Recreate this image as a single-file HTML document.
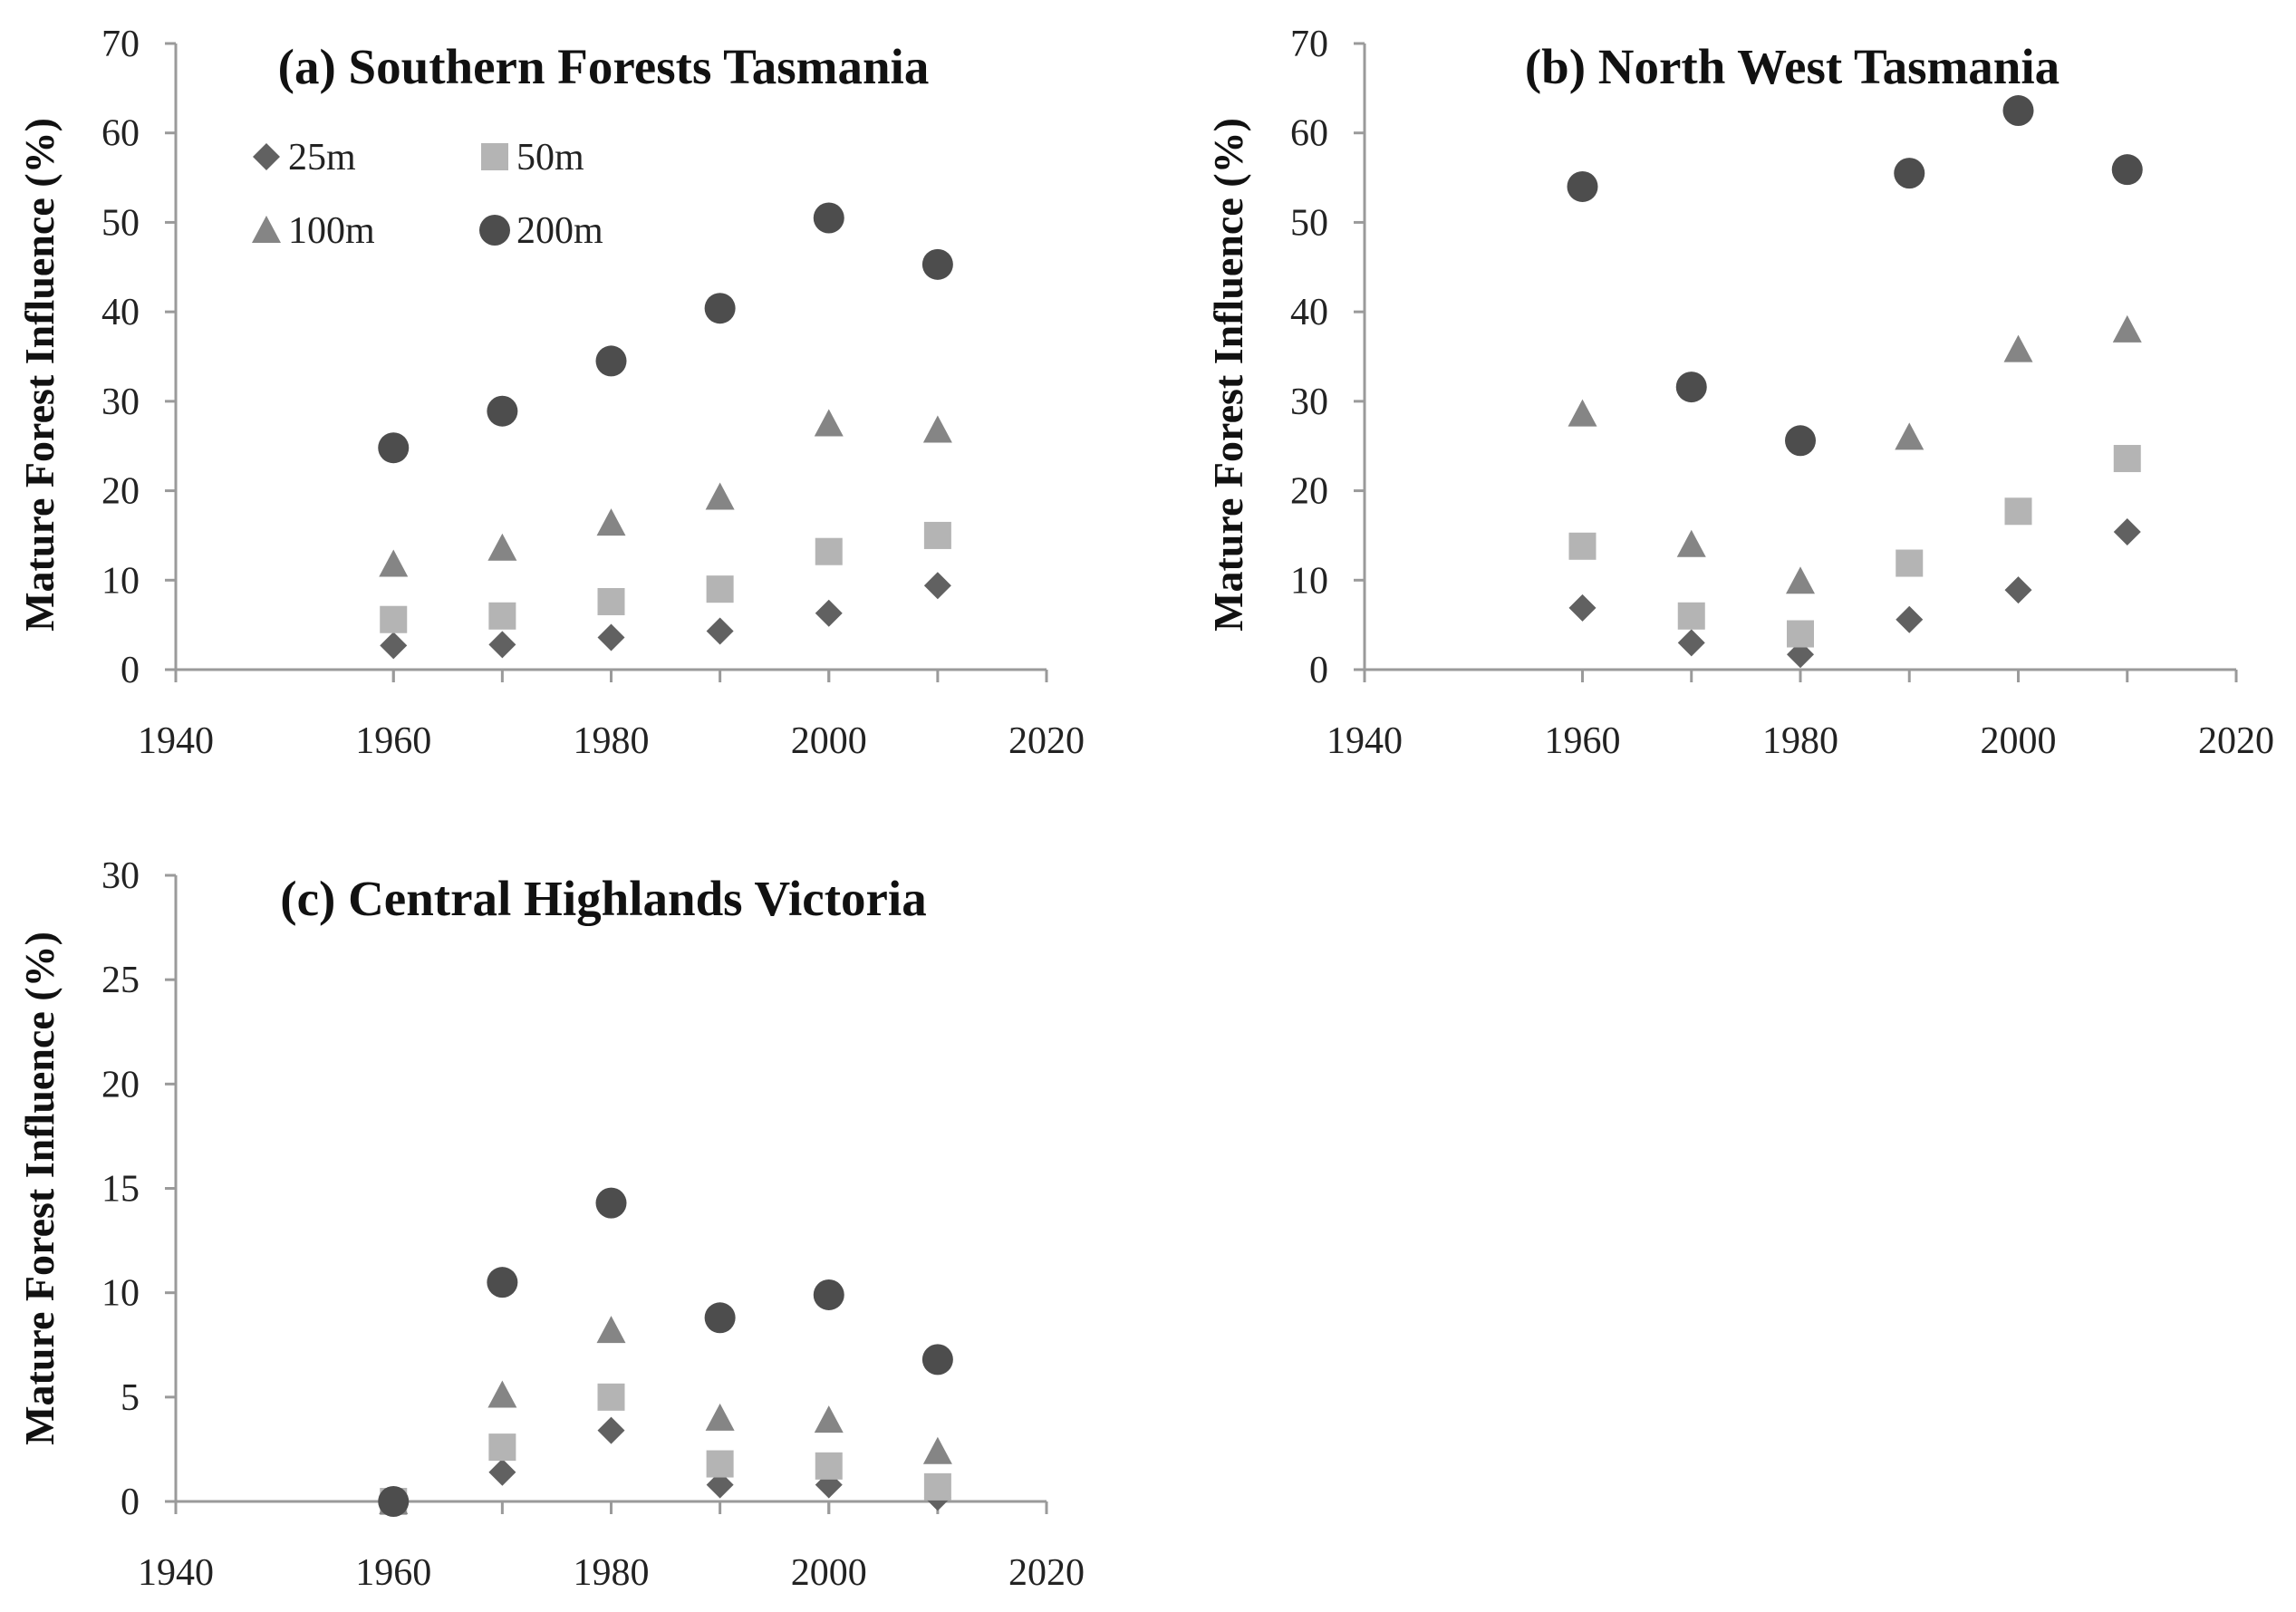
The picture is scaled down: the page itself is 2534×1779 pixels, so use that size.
<!DOCTYPE html>
<html><head><meta charset="utf-8">
<style>
html,body{margin:0;padding:0;background:#fff;}
svg{display:block;}
text{font-family:"Liberation Serif",serif;}
</style></head>
<body>
<svg id="chart" width="2534" height="1779" viewBox="0 0 2534 1779" xmlns="http://www.w3.org/2000/svg"></svg>
<script>
const years = [1960, 1970, 1980, 1990, 2000, 2010];
const xTicks = [1940, 1960, 1980, 2000, 2020];
const seriesNames = ['25m', '50m', '100m', '200m'];
const ticksAB = [0, 10, 20, 30, 40, 50, 60, 70];
const ticksC = [0, 5, 10, 15, 20, 25, 30];
const a25 = [2.7, 2.8, 3.6, 4.3, 6.3, 9.4];
const a50 = [5.6, 6.0, 7.6, 9.0, 13.2, 15.0];
const a100 = [11.8, 13.6, 16.4, 19.3, 27.5, 26.8];
const a200 = [24.8, 28.9, 34.5, 40.4, 50.5, 45.3];
const b25 = [6.9, 3.0, 1.7, 5.6, 8.9, 15.4];
const b50 = [13.8, 6.0, 4.0, 11.9, 17.7, 23.6];
const b100 = [28.6, 14.0, 9.9, 26.0, 35.8, 38.0];
const b200 = [54.0, 31.6, 25.6, 55.5, 62.5, 55.9];
const c25 = [0, 1.4, 3.4, 0.8, 0.8, 0.2];
const c50 = [0, 2.6, 5.0, 1.8, 1.7, 0.7];
const c100 = [0, 5.1, 8.2, 4.0, 3.9, 2.4];
const c200 = [0, 10.5, 14.3, 8.8, 9.9, 6.8];

const NS = 'http://www.w3.org/2000/svg';
const svg = document.getElementById('chart');
function mk(tag, attrs, parent, txt) {
  const e = document.createElementNS(NS, tag);
  for (const k in attrs) e.setAttribute(k, attrs[k]);
  if (txt !== undefined) e.textContent = txt;
  (parent || svg).appendChild(e);
  return e;
}
const colors = {'25m': '#616161', '50m': '#b4b4b4', '100m': '#858585', '200m': '#4d4d4d'};
function marker(kind, cx, cy, g) {
  let e;
  if (kind === '25m') {
    const r = 15;
    e = mk('polygon', {points: `${cx},${cy - r} ${cx + r},${cy} ${cx},${cy + r} ${cx - r},${cy}`, fill: colors[kind]}, g);
  } else if (kind === '50m') {
    e = mk('rect', {x: cx - 15, y: cy - 15, width: 30, height: 30, fill: colors[kind]}, g);
  } else if (kind === '100m') {
    e = mk('polygon', {points: `${cx},${cy - 16} ${cx + 16},${cy + 14} ${cx - 16},${cy + 14}`, fill: colors[kind]}, g);
  } else {
    e = mk('circle', {cx: cx, cy: cy, r: 17, fill: colors[kind]}, g);
  }
  return e;
}

function panel(id, x0, x1, y0, y1, yTicks, ymax, title, data, withLegend, ytOff) {
  const g = mk('g', {});
  
  
  const xs = v => x0 + (v - 1940) / 80 * (x1 - x0);
  const ys = v => y0 - v / ymax * (y0 - y1);
  const ax = mk('g', {stroke: '#9a9a9a', 'stroke-width': 3}, g);
  
  
  mk('line', {x1: x0, y1: y1, x2: x0, y2: y0 + 14}, ax);
  mk('line', {x1: x0, y1: y0, x2: x1, y2: y0}, ax);
  yTicks.forEach(t => {
    mk('line', {x1: x0 - 12, y1: ys(t), x2: x0, y2: ys(t)}, ax);
    const tl = mk('text', {x: x0 - 40, y: ys(t) + 14, 'text-anchor': 'end', 'font-size': 42, fill: '#222'}, g, String(t));
    
    
  });
  xTicks.forEach(t => {
    mk('line', {x1: xs(t), y1: y0, x2: xs(t), y2: y0 + 14}, ax);
    const tl = mk('text', {x: xs(t), y: y0 + 92, 'text-anchor': 'middle', 'font-size': 42, fill: '#222'}, g, String(t));
    
    
  });
  years.forEach(t => {
    mk('line', {x1: xs(t), y1: y0, x2: xs(t), y2: y0 + 14}, ax);
  });
  const tt = mk('text', {x: 666 + (x0 - 194), y: y1 + 44, 'text-anchor': 'middle', 'font-size': 55, 'font-weight': 'bold', fill: '#111'}, g, title);
  
  
  const yc = (y0 + y1) / 2 + ytOff;
  const yt = mk('text', {x: x0 - 150, y: yc, transform: `rotate(-90 ${x0 - 150} ${yc})`, 'text-anchor': 'middle', 'font-size': 46, 'font-weight': 'bold', fill: '#111', dy: 15}, g, 'Mature Forest Influence (%)');
  
  
  seriesNames.forEach((s, si) => {
    const sg = mk('g', {}, g);
    
    
    data[si].forEach((v, i) => {
      const m = marker(s, xs(years[i]), ys(v), sg);
      
      
    });
  });
  if (withLegend) {
    const lg = mk('g', {}, g);
    
    
    const pos = [[294, 173], [546, 173], [294, 254], [546, 254]];
    seriesNames.forEach((s, i) => {
      const eg = mk('g', {}, lg);
      
      
      marker(s, pos[i][0], pos[i][1], eg);
      mk('text', {x: pos[i][0] + 24, y: pos[i][1] + 14, 'font-size': 42, fill: '#222'}, eg, s);
    });
  }
}
panel('a', 194, 1155, 739, 48, ticksAB, 70, '(a) Southern Forests Tasmania', [a25, a50, a100, a200], true, 20);
panel('b', 1506, 2468, 739, 48, ticksAB, 70, '(b) North West Tasmania', [b25, b50, b100, b200], false, 20);
panel('c', 194, 1155, 1657, 966, ticksC, 30, '(c) Central Highlands Victoria', [c25, c50, c100, c200], false, 0);
</script>
</body></html>
